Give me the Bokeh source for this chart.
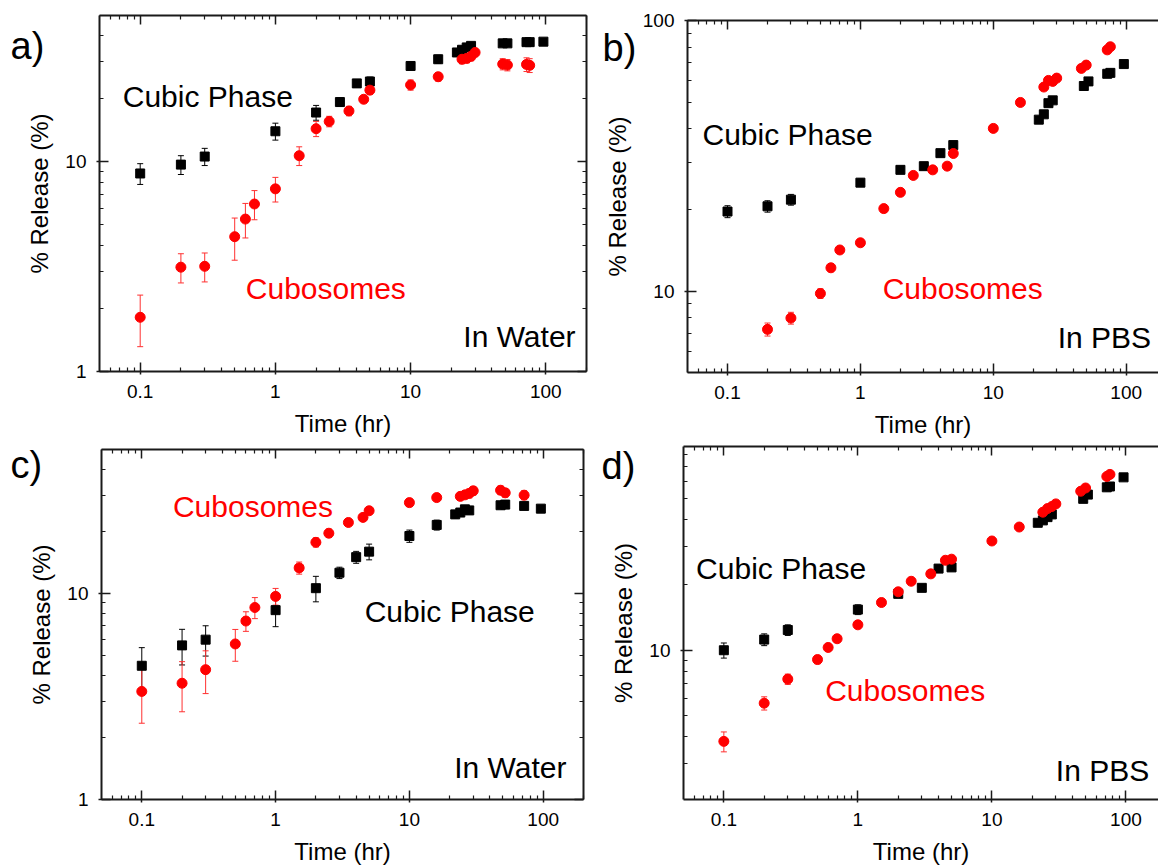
from bokeh.plotting import figure
from bokeh.models import (ColumnDataSource, Whisker, TeeHead, Label, LogAxis, GridBox,
                          FixedTicker, Range1d, CustomJSTickFormatter)
from bokeh.embed import file_html
from bokeh.resources import INLINE

# ---------------- data ----------------
# a) In Water (drug 1)
a_cubic_t = [0.1, 0.2, 0.3, 1, 2, 3, 4, 5, 10, 16, 22, 24, 26, 28, 48, 52, 72, 76, 96]
a_cubic_y = [8.8, 9.7, 10.6, 14.0, 17.2, 19.3, 23.7, 24.2, 28.7, 30.9, 33.3, 34.3, 35.2, 35.8, 36.8, 36.8, 37.3, 37.3, 37.5]
a_cubic_e = [1.0, 1.0, 1.0, 1.3, 1.4, 0.9, 0.6, 1.2, 1.2, 1.4, 1.0, 1.0, 1.0, 0.8, 0.6, 0.6, 0.8, 0.8, 0.5]
a_cubo_t = [0.1, 0.2, 0.3, 0.5, 0.6, 0.7, 1, 1.5, 2, 2.5, 3.5, 4.5, 5, 10, 16, 24, 26, 28, 30, 48, 52, 72, 76]
a_cubo_y = [1.81, 3.14, 3.17, 4.39, 5.33, 6.29, 7.43, 10.7, 14.4, 15.6, 17.5, 19.9, 22.0, 23.3, 25.5, 30.9, 31.2, 31.9, 33.3, 29.3, 29.0, 29.2, 28.9]
a_cubo_e = [0.5, 0.5, 0.5, 1.0, 1.0, 1.0, 1.0, 1.1, 1.2, 0.9, 0.9, 0.8, 1.0, 1.3, 1.2, 1.5, 1.5, 1.5, 1.5, 1.8, 1.8, 2.2, 2.2]

# b) In PBS (drug 1)
b_cubic_t = [0.1, 0.2, 0.3, 1, 2, 3, 4, 5, 22, 24, 26, 28, 48, 52, 72, 76, 96]
b_cubic_y = [19.7, 20.6, 21.8, 25.2, 28.1, 29.0, 32.4, 34.7, 43.1, 45.1, 49.6, 50.8, 57.4, 59.7, 63.7, 64.2, 69.2]
b_cubic_e = [1.0, 1.0, 1.0, 0.8, 0.8, 0.6, 0.6, 0.6, 0.5, 0.5, 0.5, 0.5, 0.5, 0.5, 0.8, 0.8, 0.5]
b_cubo_t = [0.2, 0.3, 0.5, 0.6, 0.7, 1, 1.5, 2, 2.5, 3.5, 4.5, 5, 10, 16, 24, 26, 28, 30, 46, 50, 72, 76]
b_cubo_y = [7.22, 7.95, 9.8, 12.2, 14.2, 15.1, 20.2, 23.2, 26.8, 28.1, 29.0, 32.3, 40.0, 49.9, 56.9, 60.2, 59.7, 61.4, 66.7, 68.6, 78.1, 80.2]
b_cubo_e = [0.4, 0.4, 0.4, 0.4, 0.4, 0.4, 0.4, 0.4, 0.5, 0.5, 0.8, 1.0, 1.0, 0.8, 0.8, 0.8, 0.8, 0.8, 0.8, 0.8, 1.0, 1.0]

# c) In Water (drug 2)
c_cubic_t = [0.1, 0.2, 0.3, 1, 2, 3, 4, 5, 10, 16, 22, 24, 26, 28, 48, 52, 72, 96]
c_cubic_y = [4.45, 5.59, 5.96, 8.29, 10.6, 12.6, 15.0, 15.95, 19.0, 21.5, 24.2, 24.7, 25.6, 25.3, 26.8, 27.0, 26.6, 25.8]
c_cubic_e = [1.0, 1.1, 1.0, 1.4, 1.5, 0.8, 1.0, 1.4, 1.3, 1.2, 1.0, 1.0, 1.0, 1.0, 1.0, 1.0, 1.0, 1.0]
c_cubo_t = [0.1, 0.2, 0.3, 0.5, 0.6, 0.7, 1, 1.5, 2, 2.5, 3.5, 4.5, 5, 10, 16, 24, 26, 28, 30, 48, 52, 72]
c_cubo_y = [3.34, 3.66, 4.26, 5.68, 7.34, 8.54, 9.67, 13.3, 17.7, 19.6, 22.1, 23.4, 25.2, 27.6, 29.2, 29.6, 30.1, 30.6, 31.5, 31.7, 30.8, 30.0]
c_cubo_e = [1.0, 1.0, 1.0, 1.0, 0.8, 1.0, 0.9, 0.9, 0.9, 0.9, 0.7, 0.7, 0.7, 1.2, 1.2, 1.0, 1.0, 1.5, 1.5, 1.5, 1.5, 1.5]

# d) In PBS (drug 2)
d_cubic_t = [0.1, 0.2, 0.3, 1, 2, 3, 4, 5, 22, 24, 26, 28, 48, 52, 72, 76, 96]
d_cubic_y = [10.0, 11.2, 12.4, 15.4, 18.2, 19.4, 23.8, 24.1, 38.7, 39.7, 41.1, 42.3, 49.9, 52.2, 56.4, 56.9, 62.7]
d_cubic_e = [0.8, 0.7, 0.7, 0.8, 0.5, 0.6, 0.5, 0.5, 0.6, 0.6, 0.6, 0.6, 0.6, 0.6, 0.6, 0.6, 0.6]
d_cubo_t = [0.1, 0.2, 0.3, 0.5, 0.6, 0.7, 1, 1.5, 2, 2.5, 3.5, 4.5, 5, 10, 16, 24, 26, 28, 30, 46, 50, 72, 76]
d_cubo_y = [3.80, 5.70, 7.36, 9.06, 10.3, 11.3, 13.1, 16.6, 18.6, 20.8, 22.5, 26.0, 26.3, 31.9, 37.0, 43.3, 45.0, 46.0, 47.3, 54.1, 56.0, 63.3, 64.7]
d_cubo_e = [0.4, 0.4, 0.4, 0.4, 0.4, 0.4, 0.4, 0.4, 0.5, 0.5, 0.5, 1.0, 1.0, 1.0, 0.8, 0.8, 0.8, 0.8, 0.8, 0.8, 0.8, 0.8, 0.8]

# panel letters
panel_letters = ["a)", "b)", "c)", "d)"]

# tick values
x_major = [0.1, 1, 10, 100]
x_minor = [0.06, 0.07, 0.08, 0.09, 0.2, 0.3, 0.4, 0.5, 0.6, 0.7, 0.8, 0.9,
           2, 3, 4, 5, 6, 7, 8, 9, 20, 30, 40, 50, 60, 70, 80, 90, 200]
y_minor = [2, 3, 4, 5, 6, 7, 8, 9, 20, 30, 40, 50, 60, 70, 80, 90]

# ---------------- styling ----------------
FONT = "Liberation Sans"
BLACK = "#000000"
RED = "#ff0000"
RED_BAR = "#ff3030"
AXC = "#1a1a1a"
NOTE_SIZE = "30px"
NOTE_LIFT = 10
LETTER_LIFT = 13
W_LEFT, W_RIGHT = 600, 558
H_TOP, H_BOTTOM = 440, 427


def style_axis(a, labels=True):
    a.axis_line_color = AXC
    a.axis_line_width = 2
    a.major_tick_line_color = AXC
    a.minor_tick_line_color = AXC
    a.major_tick_line_width = 1.5
    a.minor_tick_line_width = 1.2
    a.major_tick_in = 9
    a.minor_tick_in = 4
    a.minor_tick_out = 0
    if labels:
        a.major_tick_out = 3
        a.major_label_standoff = 10
        a.major_label_text_font = FONT
        a.major_label_text_font_size = "19px"
        a.major_label_text_color = BLACK
        a.axis_label_text_font = FONT
        a.axis_label_text_font_size = "24px"
        a.axis_label_text_font_style = "normal"
        a.axis_label_text_color = BLACK
        a.axis_label_standoff = 9
        a.formatter = CustomJSTickFormatter(code="return String(tick);")
    else:
        a.major_tick_out = 0
        a.major_label_standoff = 0
        a.major_label_text_font_size = "0px"
        a.formatter = CustomJSTickFormatter(code="return '';")


def panel(w, h, bl, br, bt, bb, x_end, y_start, y_end, y_major, mirror_right):
    p = figure(width=w, height=h, x_axis_type="log", y_axis_type="log",
               x_range=Range1d(0.05, x_end), y_range=Range1d(y_start, y_end),
               output_backend="svg", toolbar_location=None,
               min_border_left=bl, min_border_right=br,
               min_border_top=bt, min_border_bottom=bb,
               background_fill_color="white", border_fill_color="white")
    p.title.visible = False
    p.frame_align = False
    p.grid.visible = False
    p.outline_line_color = None
    ax = p.xaxis[0]
    ay = p.yaxis[0]
    ax.ticker = FixedTicker(ticks=x_major, minor_ticks=x_minor)
    ay.ticker = FixedTicker(ticks=y_major, minor_ticks=y_minor)
    ax.axis_label = "Time (hr)"
    ay.axis_label = "% Release (%)"
    style_axis(ax)
    style_axis(ay)
    top = LogAxis(ticker=FixedTicker(ticks=x_major, minor_ticks=x_minor))
    style_axis(top, labels=False)
    p.add_layout(top, "above")
    if mirror_right:
        right = LogAxis(ticker=FixedTicker(ticks=y_major, minor_ticks=y_minor))
        style_axis(right, labels=False)
        p.add_layout(right, "right")
    return p


def series(p, t, y, err, color, bar_color, marker, size):
    src = ColumnDataSource(dict(t=t, y=y,
                                lo=[v - e for v, e in zip(y, err)],
                                hi=[v + e for v, e in zip(y, err)]))
    p.add_layout(Whisker(source=src, base="t", lower="lo", upper="hi",
                         line_color=bar_color, line_width=1,
                         upper_head=TeeHead(size=6, line_color=bar_color, line_width=1),
                         lower_head=TeeHead(size=6, line_color=bar_color, line_width=1)))
    p.scatter("t", "y", source=src, marker=marker, size=size,
              fill_color=color, line_color=color)


def text(p, x, y, s, color=BLACK, align="left"):
    p.add_layout(Label(x=x, y=y, y_offset=NOTE_LIFT, text=s, text_color=color,
                       text_font=FONT, text_font_size=NOTE_SIZE, text_align=align,
                       text_baseline="alphabetic"))


# ---------------- panels ----------------
pa = panel(W_LEFT, H_TOP, 99, 14, 15, 69, 200, 0.997, 50, [1, 10, 100], True)
series(pa, a_cubic_t, a_cubic_y, a_cubic_e, BLACK, BLACK, "square", 9)
series(pa, a_cubo_t, a_cubo_y, a_cubo_e, RED, RED_BAR, "circle", 10)
text(pa, 0.0743, 18.3, "Cubic Phase")
text(pa, 0.604, 2.23, "Cubosomes", color=RED)
text(pa, 166, 1.307, "In Water", align="right")

pb = panel(W_RIGHT, H_TOP, 83, 0, 20, 68, 175, 5, 100.3, [10, 100], False)
series(pb, b_cubic_t, b_cubic_y, b_cubic_e, BLACK, BLACK, "square", 9)
series(pb, b_cubo_t, b_cubo_y, b_cubo_e, RED, RED_BAR, "circle", 10)
text(pb, 0.0648, 35.0, "Cubic Phase")
text(pb, 1.471, 9.42, "Cubosomes", color=RED)
text(pb, 30.5, 6.21, "In PBS")

pc = panel(W_LEFT, H_BOTTOM, 101, 17, 9, 65, 200, 0.997, 50, [1, 10, 100], True)
series(pc, c_cubic_t, c_cubic_y, c_cubic_e, BLACK, BLACK, "square", 9)
series(pc, c_cubo_t, c_cubo_y, c_cubo_e, RED, RED_BAR, "circle", 10)
text(pc, 0.171, 23.6, "Cubosomes", color=RED)
text(pc, 4.63, 7.30, "Cubic Phase")
text(pc, 149, 1.27, "In Water", align="right")

pd = panel(W_RIGHT, H_BOTTOM, 83, 0, 6, 67, 175, 2.05, 87, [10], False)
series(pd, d_cubic_t, d_cubic_y, d_cubic_e, BLACK, BLACK, "square", 9)
series(pd, d_cubo_t, d_cubo_y, d_cubo_e, RED, RED_BAR, "circle", 10)
text(pd, 0.0621, 21.5, "Cubic Phase")
text(pd, 0.570, 5.84, "Cubosomes", color=RED)
text(pd, 30.0, 2.50, "In PBS")

# ---------------- transparent overlay carrying the panel letters ----------------
W_ALL, H_ALL = W_LEFT + W_RIGHT, H_TOP + H_BOTTOM
ov = figure(width=W_ALL, height=H_ALL, x_range=Range1d(0, W_ALL), y_range=Range1d(H_ALL, 0),
            x_axis_location=None, y_axis_location=None,
            output_backend="svg", toolbar_location=None, min_border=0,
            background_fill_alpha=0, border_fill_alpha=0)
ov.title.visible = False
ov.frame_align = False
ov.grid.visible = False
ov.outline_line_color = None
# anchor of each letter in page pixels (left edge, text baseline)
letter_px = [(10, 58), (602, 60), (10, 477), (601, 478)]
for s, (lx, ly) in zip(panel_letters, letter_px):
    ov.add_layout(Label(x=lx, y=ly, y_offset=LETTER_LIFT, text=s, text_color=BLACK,
                        text_font=FONT, text_font_size="38px", text_align="left",
                        text_baseline="alphabetic"))

layout = GridBox(children=[(pa, 0, 0), (pb, 0, 1), (pc, 1, 0), (pd, 1, 1),
                           (ov, 0, 0, 2, 2)], spacing=0)

open("out.html", "w").write(file_html(layout, INLINE))
